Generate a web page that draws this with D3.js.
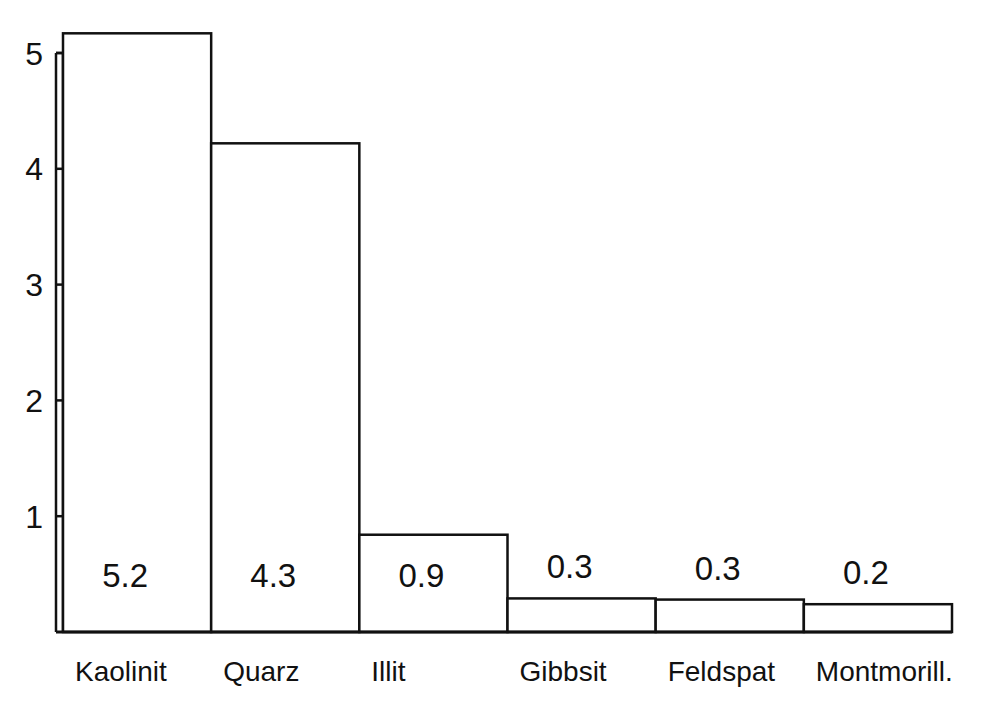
<!DOCTYPE html>
<html>
<head>
<meta charset="utf-8">
<script src="https://cdn.jsdelivr.net/npm/d3@7"></script>
<style>
  html, body { margin: 0; padding: 0; background: #fff; }
  svg { display: block; }
  text { font-family: "Liberation Sans", Arial, sans-serif; fill: #111; }
</style>
</head>
<body>
<svg id="chart" width="1002" height="710"></svg>
<script>
const categories = ["Kaolinit", "Quarz", "Illit", "Gibbsit", "Feldspat", "Montmorill."];
const barHeights = [5.17, 4.22, 0.84, 0.29, 0.28, 0.24];
const valueLabels = ["5.2", "4.3", "0.9", "0.3", "0.3", "0.2"];
const yTicks = [1, 2, 3, 4, 5];

const svg = d3.select("#chart");
const axisLeft = 56, axisRight = 63;
const x = d3.scaleBand().domain(categories).range([axisRight, 952]).padding(0);
const y = d3.scaleLinear().domain([0, 5]).range([632, 53]);
const sw = 2.5;

// axis: double-line bar with ticks between
const ax = svg.append("g").attr("stroke", "#111").attr("stroke-width", sw).attr("fill", "none");
ax.append("line").attr("x1", axisLeft).attr("x2", axisLeft).attr("y1", y(5)).attr("y2", y(0));
ax.append("line").attr("x1", axisRight).attr("x2", axisRight).attr("y1", y(5)).attr("y2", y(0));
ax.append("line").attr("x1", axisLeft).attr("x2", axisRight).attr("y1", y(5)).attr("y2", y(5));
ax.selectAll(".tk").data(yTicks).join("line")
  .attr("x1", axisLeft).attr("x2", axisRight)
  .attr("y1", d => y(d)).attr("y2", d => y(d));

svg.selectAll(".ylab").data(yTicks).join("text")
  .attr("x", 43).attr("y", d => y(d))
  .attr("dy", "0.36em")
  .attr("text-anchor", "end")
  .attr("font-size", 32)
  .text(d => d);

// bars
svg.selectAll(".bar").data(categories).join("rect")
  .attr("x", d => x(d))
  .attr("width", x.bandwidth())
  .attr("y", (d, i) => y(barHeights[i]))
  .attr("height", (d, i) => y(0) - y(barHeights[i]))
  .attr("fill", "#fff")
  .attr("stroke", "#111")
  .attr("stroke-width", sw);

// baseline
svg.append("line").attr("x1", axisLeft).attr("x2", x.range()[1])
  .attr("y1", y(0)).attr("y2", y(0))
  .attr("stroke", "#111").attr("stroke-width", 3);

// value labels: inside tall bars, just above short ones
svg.selectAll(".vlab").data(valueLabels).join("text")
  .attr("x", (d, i) => x(categories[i]) + x.bandwidth() / 2 - 12)
  .attr("y", (d, i) => y(barHeights[i]) < 560 ? 587 : y(barHeights[i]) - 20)
  .attr("text-anchor", "middle")
  .attr("font-size", 33)
  .text(d => d);

// category labels
svg.selectAll(".clab").data(categories).join("text")
  .attr("x", d => x(d) + 12)
  .attr("y", 681)
  .attr("text-anchor", "start")
  .attr("font-size", 28)
  .text(d => d);
</script>
</body>
</html>
